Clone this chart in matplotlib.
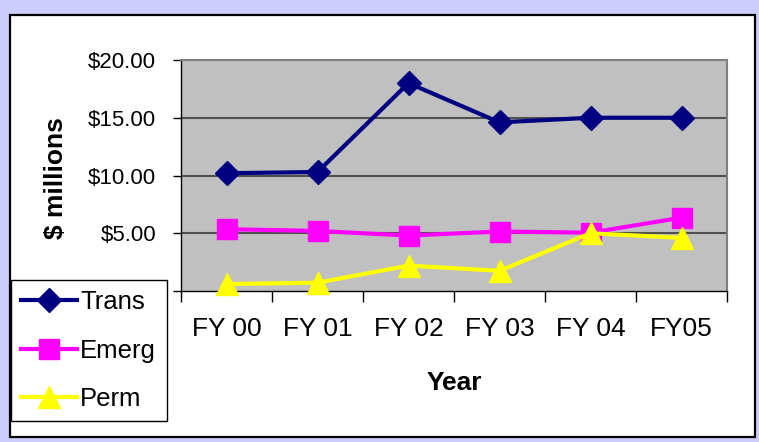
import numpy as np
import matplotlib.pyplot as plt
from matplotlib.patches import Rectangle
from matplotlib.ticker import FixedLocator, NullFormatter

plt.rcParams['font.family'] = ['Liberation Sans', 'DejaVu Sans']

# 数据
years = ['FY 00', 'FY 01', 'FY 02', 'FY 03', 'FY 04', 'FY05']
trans = [10.2, 10.3, 18.0, 14.6, 15.0, 15.0]
emerg = [5.35, 5.2, 4.8, 5.15, 5.05, 6.35]
perm = [0.6, 0.72, 2.2, 1.75, 5.0, 4.6]
ytick_vals = [0, 5, 10, 15, 20]
ytick_labels = ['', '$5.00', '$10.00', '$15.00', '$20.00']  # 0 的标签在原图被图例挡住

W, H = 759, 442
fig = plt.figure(figsize=(W / 100, H / 100), dpi=100, facecolor='#CCCCFF')

# 白色面板加黑框（放在坐标轴下面）
fig.patches.append(Rectangle((10 / W, 1 - 437 / H), 745 / W, 422 / H,
                             transform=fig.transFigure, facecolor='white',
                             edgecolor='black', linewidth=1.6, zorder=-1))

ax = fig.add_axes([181 / W, 1 - 291 / H, 546 / W, 231 / H])
ax.set_facecolor('#C0C0C0')

x = np.arange(len(years))
ax.plot(x, trans, color='#000080', lw=3, marker='D', ms=12, label='Trans', clip_on=False, zorder=3)
ax.plot(x, emerg, color='#FF00FF', lw=3, marker='s', ms=15, label='Emerg', clip_on=False, zorder=3)
ax.plot(x, perm, color='#FFFF00', lw=3, marker='^', ms=16, label='Perm', clip_on=False, zorder=3)

ax.set_xlim(-0.5, len(years) - 0.5)
ax.set_ylim(0, 20)

# y 轴刻度
ax.set_yticks(ytick_vals)
ax.set_yticklabels(ytick_labels, fontsize=16)
ax.tick_params(axis='y', direction='out', length=6, width=1, pad=12)
for yv in ytick_vals[1:-1]:
    ax.axhline(yv, color='#505050', lw=1.5, zorder=1)

# x 轴：刻度在类别边界，标签在中间
ax.xaxis.set_major_locator(FixedLocator(np.arange(-0.5, len(years), 1.0)))
ax.xaxis.set_major_formatter(NullFormatter())
ax.xaxis.set_minor_locator(FixedLocator(x))
ax.set_xticklabels(years, minor=True, fontsize=19)
ax.tick_params(axis='x', which='major', direction='out', length=8, width=1)
ax.tick_params(axis='x', which='minor', length=0, pad=19)

for s in ['top', 'right']:
    ax.spines[s].set_color('#808080')
    ax.spines[s].set_linewidth(1.5)
for s in ['left', 'bottom']:
    ax.spines[s].set_color('black')
    ax.spines[s].set_linewidth(1)

ax.set_xlabel('Year', fontsize=19, fontweight='bold')
ax.xaxis.set_label_coords(0.5, (291 - 383) / 231, transform=ax.transAxes)
ax.xaxis.label.set_va('center')
ax.set_ylabel('$ millions', fontsize=19, fontweight='bold')
ax.yaxis.set_label_coords((56 - 181) / 546, (291 - 178) / 231, transform=ax.transAxes)
ax.yaxis.label.set_va('center')

leg = fig.legend(loc='upper left', bbox_to_anchor=(11 / W, 1 - 280 / H),
                 bbox_transform=fig.transFigure, fontsize=18.5, frameon=True,
                 fancybox=False, edgecolor='black', framealpha=1,
                 handlelength=2.15, handletextpad=0.15, labelspacing=0.95,
                 borderpad=0.4, borderaxespad=0)
leg.get_frame().set_linewidth(1)

fig.savefig('out.png', dpi=100, facecolor=fig.get_facecolor())
